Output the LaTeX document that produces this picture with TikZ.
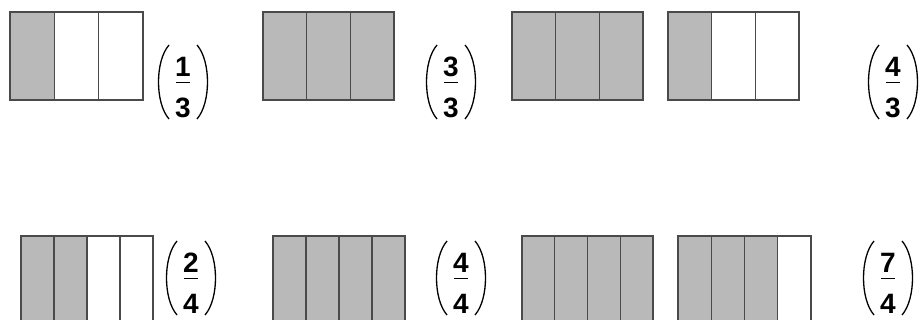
\documentclass[tikz,border=0pt]{standalone}
\usepackage{fontspec}
\setmainfont{Liberation Sans}
\definecolor{cellgray}{HTML}{B9B9B9}
\definecolor{edge}{HTML}{4A4A4A}
\tikzset{
  cellline/.style={draw=edge, line width=1.3pt},
  digit/.style={font=\fontsize{28}{28}\selectfont\bfseries, inner sep=0pt, anchor=center},
  paren/.style={draw=black, line width=1.3pt},
  fracbar/.style={draw=black, line width=1pt}
}
% \barmodel{x0}{x1}{y0}{y1}{n}{k}{closed?}
\newcommand{\barmodel}[7]{%
  \pgfmathsetmacro{\cw}{(#2-#1)/#5}%
  \ifnum#6>0
    \fill[cellgray] (#1,#3) rectangle ({#1+#6*\cw},#4);
  \fi
  \foreach \i in {1,...,\numexpr#5-1\relax} {
    \draw[cellline] ({#1+\i*\cw},#3) -- ({#1+\i*\cw},#4);
  }
  \ifnum#7=1
    \draw[cellline] (#1,#3) rectangle (#2,#4);
  \else
    \draw[cellline] (#1,#4) -- (#1,#3) -- (#2,#3) -- (#2,#4);
  \fi
}
% \fracgroup{name}{cx}{cy}{num}{den}
\newcommand{\fracgroup}[5]{%
  \node[digit] (#1n) at (#2,#3-16) {#4};
  \node[digit] (#1d) at (#2,#3+25) {#5};
  \draw[fracbar] (#2-7,#3) -- (#2+7,#3);
  \draw[paren] (#2-14,#3-38) .. controls (#2-28,#3-22) and (#2-28,#3+20) .. (#2-14,#3+36);
  \draw[paren] (#2+14,#3-38) .. controls (#2+28,#3-22) and (#2+28,#3+20) .. (#2+14,#3+36);
}
\begin{document}
\begin{tikzpicture}[x=1pt,y=-1pt]
\useasboundingbox (0,0) rectangle (924,320);
% row 1
\barmodel{10}{143}{12}{100}{3}{1}{1}
\barmodel{263}{394}{12}{100}{3}{3}{1}
\barmodel{512}{643}{12}{100}{3}{3}{1}
\barmodel{668}{799}{12}{100}{3}{1}{1}
\fracgroup{fa}{183}{83}{1}{3}
\fracgroup{fb}{451}{83}{3}{3}
\fracgroup{fc}{893}{83}{4}{3}
% row 2
\barmodel{21}{153}{236}{320}{4}{2}{0}
\barmodel{273}{405}{236}{320}{4}{4}{0}
\barmodel{522}{653}{236}{320}{4}{4}{0}
\barmodel{678}{811}{236}{320}{4}{3}{0}
\fracgroup{fd}{191}{279}{2}{4}
\fracgroup{fe}{461}{279}{4}{4}
\fracgroup{ff}{888}{279}{7}{4}
\end{tikzpicture}
\end{document}
